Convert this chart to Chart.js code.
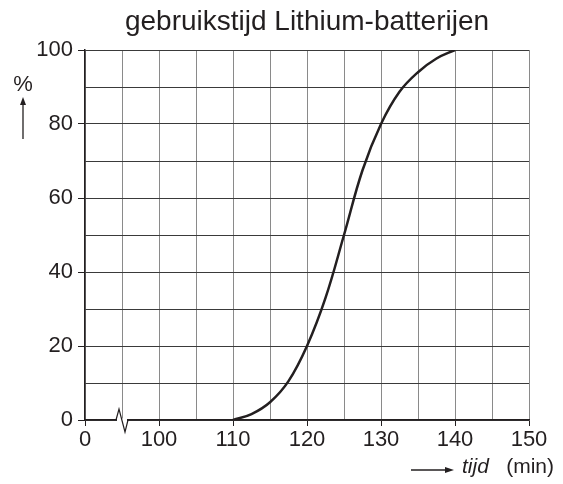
<!DOCTYPE html>
<html>
<head>
<meta charset="utf-8">
<script src="https://cdn.jsdelivr.net/npm/chart.js@4/dist/chart.umd.min.js"></script>
<style>
  html, body { margin: 0; padding: 0; background: #fff; }
  #wrap { width: 563px; height: 484px; }
</style>
</head>
<body>
<div id="wrap"><canvas id="chart" width="563" height="484"></canvas></div>
<script>
// x values in minutes; the axis starts at 90, shown as "0" with a break
const tijd = [110, 112.5, 115, 117.5, 120, 122.5, 125, 127.5, 130, 132.5, 135, 137.5, 140];
const procent = [0, 1.6, 4.8, 10.5, 20, 33, 50, 67.5, 80, 88.7, 94, 97.7, 100];
const xTickLabels = { 90: "0", 100: "100", 110: "110", 120: "120", 130: "130", 140: "140", 150: "150" };
const yTickLabels = [0, 20, 40, 60, 80, 100];

const FONT = "'Liberation Sans', Arial, Helvetica, sans-serif";
const ink = "#231f20";

const extras = {
    id: "extras",
    afterDraw(chart) {
        const ctx = chart.ctx;
        const area = chart.chartArea;
        const xs = chart.scales.x;
        ctx.save();

        // title
        ctx.fillStyle = ink;
        ctx.font = "28px " + FONT;
        ctx.textAlign = "center";
        ctx.textBaseline = "middle";
        ctx.fillText("gebruikstijd Lithium-batterijen", (area.left + area.right) / 2, 22);

        // axis break on the x axis
        const bx = xs.getPixelForValue(95);
        const by = area.bottom;
        ctx.strokeStyle = "#fff";
        ctx.lineWidth = 3;
        ctx.beginPath();
        ctx.moveTo(bx - 5, by);
        ctx.lineTo(bx + 5, by);
        ctx.stroke();
        ctx.strokeStyle = ink;
        ctx.lineWidth = 1.2;
        ctx.beginPath();
        ctx.moveTo(bx - 6, by);
        ctx.lineTo(bx - 3, by - 11);
        ctx.lineTo(bx + 3, by + 12);
        ctx.lineTo(bx + 6, by);
        ctx.stroke();

        // y label: % with arrow up
        ctx.font = "22px " + FONT;
        ctx.textAlign = "center";
        ctx.fillText("%", 23, 85);
        ctx.lineWidth = 1.3;
        ctx.beginPath();
        ctx.moveTo(23, 139);
        ctx.lineTo(23, 102);
        ctx.stroke();
        ctx.beginPath();
        ctx.moveTo(23, 97);
        ctx.lineTo(20, 105);
        ctx.lineTo(26, 105);
        ctx.closePath();
        ctx.fill();

        // x label: arrow -> tijd (min)
        const ly = 467;
        ctx.beginPath();
        ctx.moveTo(411, ly + 3);
        ctx.lineTo(447, ly + 3);
        ctx.stroke();
        ctx.beginPath();
        ctx.moveTo(454, ly + 3);
        ctx.lineTo(445, ly);
        ctx.lineTo(445, ly + 6);
        ctx.closePath();
        ctx.fill();
        ctx.textAlign = "left";
        ctx.font = "italic 21px " + FONT;
        ctx.fillText("tijd", 462, ly);
        ctx.font = "21px " + FONT;
        ctx.textAlign = "right";
        ctx.fillText("(min)", 554, ly);

        ctx.restore();
    }
};

new Chart(document.getElementById("chart"), {
    type: "line",
    data: {
        datasets: [{
            data: tijd.map((x, i) => ({ x: x, y: procent[i] })),
            borderColor: ink,
            borderWidth: 2.5,
            pointRadius: 0,
            fill: false,
            tension: 0.4
        }]
    },
    options: {
        responsive: false,
        animation: false,
        layout: { padding: { top: 50, right: 34, left: 0, bottom: 0 } },
        plugins: {
            legend: { display: false },
            title: { display: false },
            tooltip: { enabled: false }
        },
        scales: {
            x: {
                type: "linear",
                min: 90,
                max: 150,
                afterFit: s => { s.height = 64; },
                afterBuildTicks: s => {
                    s.ticks = [];
                    for (let v = 90; v <= 150; v += 5) s.ticks.push({ value: v });
                },
                ticks: {
                    autoSkip: false,
                    maxRotation: 0,
                    padding: 1,
                    color: ink,
                    font: { family: FONT, size: 22 },
                    callback: v => xTickLabels[v] || ""
                },
                grid: {
                    color: "#8a8a8a",
                    lineWidth: 1,
                    tickLength: 6,
                    tickColor: c => (c.tick && xTickLabels[c.tick.value]) ? ink : "rgba(0,0,0,0)"
                },
                border: { color: ink, width: 1.5 }
            },
            y: {
                min: 0,
                max: 100,
                afterFit: s => { s.width = 85; },
                afterBuildTicks: s => {
                    s.ticks = [];
                    for (let v = 0; v <= 100; v += 10) s.ticks.push({ value: v });
                },
                ticks: {
                    autoSkip: false,
                    padding: 5,
                    color: ink,
                    font: { family: FONT, size: 22 },
                    callback: v => yTickLabels.includes(v) ? String(v) : ""
                },
                grid: {
                    color: "#3a3a3a",
                    lineWidth: 1,
                    tickLength: 7,
                    tickColor: c => (c.tick && yTickLabels.includes(c.tick.value)) ? ink : "rgba(0,0,0,0)"
                },
                border: { color: ink, width: 1.5 }
            }
        }
    },
    plugins: [extras]
});
</script>
</body>
</html>
